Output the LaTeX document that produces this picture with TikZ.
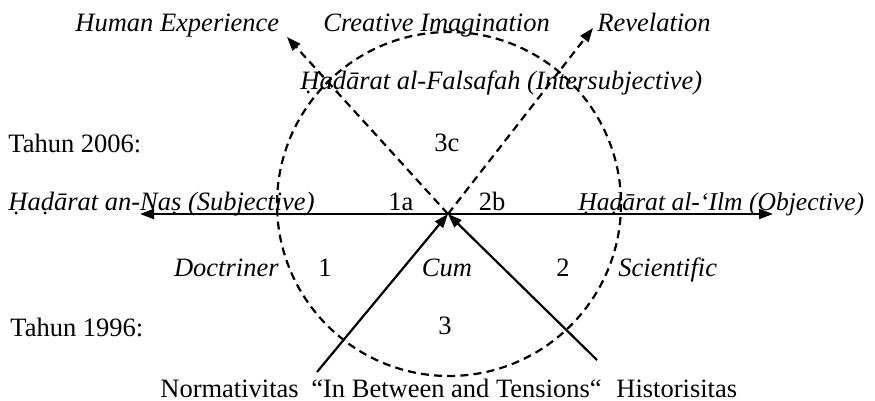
\documentclass[tikz,border=0pt]{standalone}
\usepackage{fontspec}
\setmainfont{Liberation Serif}
\usetikzlibrary{arrows.meta}
\tikzset{
  txt/.style={inner sep=0pt, anchor=base west},
  num/.style={inner sep=0pt, anchor=base},
  ital/.style={txt, font=\fontsize{13.25}{15}\selectfont\itshape},
  axis/.style={line width=1.1pt, -{Triangle[length=7pt,width=5pt]}},
  dashax/.style={axis, dash pattern=on 4pt off 2.6pt},
}
\begin{document}
\begin{tikzpicture}[x=0.5pt, y=-0.5pt, font=\fontsize{13.25}{15}\selectfont]
\useasboundingbox (0,0) rectangle (875,401);
% circle and ends of the arrows
\draw[line width=1.1pt, dash pattern=on 4pt off 2.6pt] (449,204) circle[radius=172];
\coordinate (o) at (448,214);
\coordinate (lt) at (140,214);
\coordinate (rt) at (773,214);
\coordinate (ht) at (287,37);
\coordinate (vt) at (593,28);
\coordinate (nb) at (317,372);
\coordinate (hb) at (597,360);
% top
\node[ital] (hum) at (75,32) {Human Experience};
\node[ital] (cre) at (323,32) {Creative Imagination};
\node[ital] (rev) at (597,32) {Revelation};
\node[ital] (fal) at (300,90) {Ḥaḍārat al-Falsafah (Intersubjective)};
\node[txt] (t06) at (8,153) {Tahun 2006:};
\node[num] (r3c) at (447,152) {3c};
% middle
\node[ital] (nas) at (8,211) {Ḥaḍārat an-Naṣ (Subjective)};
\node[num] (r1a) at (401,211) {1a};
\node[num] (r2b) at (492,211) {2b};
\node[ital, font=\fontsize{12.8}{15}\selectfont\itshape] (ilm) at (578,211) {Ḥaḍārat al-‘Ilm (Objective)};
\node[ital, anchor=base east] (doc) at (279,277) {Doctriner};
\node[num] (r1) at (325,277) {1};
\node[num, font=\fontsize{13.25}{15}\selectfont\itshape] (cum) at (447,277) {Cum};
\node[num] (r2) at (563,277) {2};
\node[ital] (sci) at (618,277) {Scientific};
% bottom
\node[txt] (t96) at (10,337) {Tahun 1996:};
\node[num] (r3) at (445,335) {3};
\node[txt] (nor) at (160,398) {Normativitas};
\node[txt] (bet) at (311,398) {“In Between and Tensions“};
\node[txt] (his) at (616,398) {Historisitas};
% arrows
\draw[axis] (o) -- (lt);
\draw[axis] (o) -- (rt);
\draw[dashax] (o) -- (ht);
\draw[dashax] (o) -- (vt);
\draw[axis] (nb) -- (o);
\draw[axis] (hb) -- (o);
\end{tikzpicture}
\end{document}
